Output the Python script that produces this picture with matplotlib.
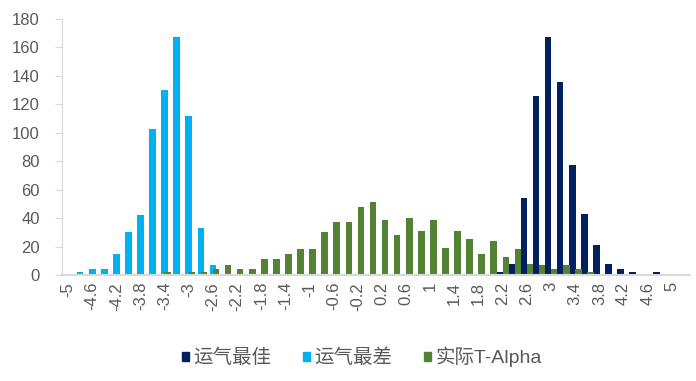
import matplotlib.pyplot as plt
from matplotlib.patches import Patch

plt.rcParams['font.family'] = ['Liberation Sans', 'Noto Sans CJK SC', 'DejaVu Sans']

# categorias del histograma (paso 0.2)
bins = ["-5", "-4.8", "-4.6", "-4.4", "-4.2", "-4", "-3.8", "-3.6", "-3.4", "-3.2",
        "-3", "-2.8", "-2.6", "-2.4", "-2.2", "-2", "-1.8", "-1.6", "-1.4", "-1.2",
        "-1", "-0.8", "-0.6", "-0.4", "-0.2", "0", "0.2", "0.4", "0.6", "0.8",
        "1", "1.2", "1.4", "1.6", "1.8", "2", "2.2", "2.4", "2.6", "2.8",
        "3", "3.2", "3.4", "3.6", "3.8", "4", "4.2", "4.4", "4.6", "4.8", "5"]

# 运气最佳
best = [0, 0, 0, 0, 0, 0, 0, 0, 0, 0,
        0, 0, 0, 0, 0, 0, 0, 0, 0, 0,
        0, 0, 0, 0, 0, 0, 0, 0, 0, 0,
        0, 0, 0, 0, 0, 0, 2, 8, 54, 126,
        167, 136, 77, 43, 21, 8, 4, 2, 0, 2, 0]

# 运气最差
worst = [0, 2, 4, 4, 15, 30, 42, 103, 130, 167,
         112, 33, 7, 0, 0, 0, 0, 0, 0, 0,
         0, 0, 0, 0, 0, 0, 0, 0, 0, 0,
         0, 0, 0, 0, 0, 0, 0, 0, 0, 0,
         0, 0, 0, 0, 0, 0, 0, 0, 0, 0, 0]

# 实际T-Alpha
actual = [0, 0, 0, 0, 0, 0, 0, 0, 2, 0,
          2, 2, 4, 7, 4, 4, 11, 11, 15, 18,
          18, 30, 37, 37, 48, 51, 39, 28, 40, 31,
          39, 19, 31, 25, 15, 24, 13, 18, 8, 7,
          4, 7, 4, 2, 0, 0, 0, 0, 0, 0, 0]

series = [("运气最佳", best, "#002060"),
          ("运气最差", worst, "#00B0F0"),
          ("实际T-Alpha", actual, "#548235")]

fig = plt.figure(figsize=(6.96, 3.81), dpi=100)
ax = fig.add_axes([62 / 696, 106 / 381, 628 / 696, 256 / 381])

x = list(range(len(bins)))
offsets = [-0.25, 0.0, 0.25]
for (name, vals, col), off in zip(series, offsets):
    ax.bar([i + off for i in x], vals, width=0.55, color=col, linewidth=0)

ax.set_xlim(-0.5, 51.5)
ax.set_ylim(0, 180)
ax.set_yticks(range(0, 181, 20))
ax.set_xticks(x[::2])
ax.set_xticklabels(bins[::2], rotation=90)

gris = "#D9D9D9"
for s in ["top", "right"]:
    ax.spines[s].set_visible(False)
ax.spines["left"].set_color(gris)
ax.spines["bottom"].set_color(gris)
ax.spines["bottom"].set_linewidth(1.5)
ax.tick_params(axis="y", colors=gris, labelcolor="#595959", labelsize=12, length=5, pad=11)
ax.tick_params(axis="x", length=0, labelcolor="#595959", labelsize=12, pad=5)

handles = [Patch(color=c, label=n) for n, _, c in series]
fig.legend(handles=handles, loc="center", bbox_to_anchor=(0.52, 0.063), ncol=3,
           frameon=False, fontsize=14, handlelength=0.36, handleheight=0.36,
           handletextpad=0.25, columnspacing=1.6, labelcolor="#595959")

fig.savefig("out.png", dpi=100)
